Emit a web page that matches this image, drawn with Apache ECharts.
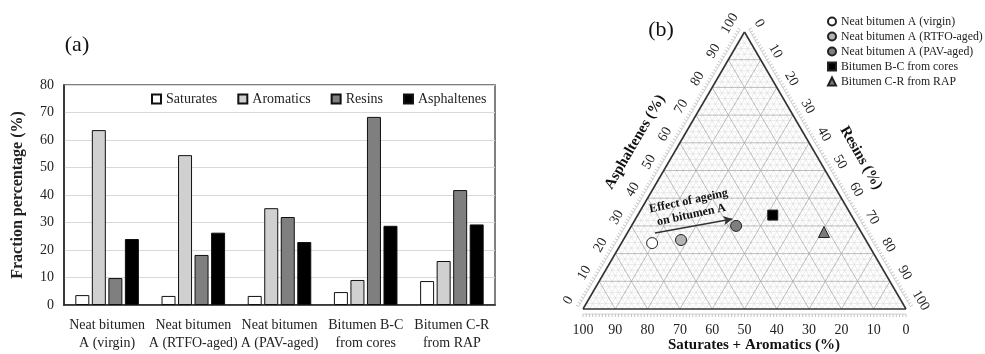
<!DOCTYPE html>
<html>
<head>
<meta charset="utf-8">
<script src="https://cdn.jsdelivr.net/npm/echarts@6/dist/echarts.min.js"></script>
<style>
  html, body { margin: 0; padding: 0; background: #fff; }
  #chart { width: 985px; height: 354px; }
</style>
</head>
<body>
<div id="chart"></div>
<script>
// (a) bar chart data
const categories = ['Neat bitumen\nA (virgin)', 'Neat bitumen\nA (RTFO-aged)', 'Neat bitumen\nA (PAV-aged)', 'Bitumen B-C\nfrom cores', 'Bitumen C-R\nfrom RAP'];
const saturates = [3.6, 3.3, 3.3, 4.7, 8.7];
const aromatics = [63.6, 54.5, 35.2, 9.1, 16.0];
const resins = [9.8, 18.2, 32.0, 68.4, 41.8];
const asphaltenes = [24.0, 26.3, 22.9, 28.8, 29.3];

// (b) ternary data, in %
const ternaryNames = ['Neat bitumen A (virgin)', 'Neat bitumen A (RTFO-aged)', 'Neat bitumen A (PAV-aged)', 'Bitumen B-C from cores', 'Bitumen C-R from RAP'];
const ternarySatAro = [66.7, 57.2, 37.6, 24.3, 11.5];
const ternaryResins = [9.5, 17.9, 32.4, 41.8, 60.7];
const ternaryAsph = [23.8, 24.9, 30.0, 33.9, 27.8];
const ternaryTicks = [0, 10, 20, 30, 40, 50, 60, 70, 80, 90, 100];
// ageing arrow, [satAro, resins, asph]
const arrowStart = [64.0, 8.6, 27.4];
const arrowEnd = [37.5, 30.0, 32.5];

const serif = '"Liberation Serif", "Times New Roman", serif';

// ternary -> cartesian (0..1)
function tern(r, a) {
  return [(r + a / 2) / 100, a / 100];
}

// grid lines of the triangle
const triLines = [];
for (let k = 2; k < 100; k += 2) {
  const kind = k % 10 === 0 ? 1 : 0;
  let p, q;
  p = tern(0, k); q = tern(100 - k, k); triLines.push([p[0], p[1], q[0], q[1], kind]);
  p = tern(k, 0); q = tern(k, 100 - k); triLines.push([p[0], p[1], q[0], q[1], kind]);
  p = tern(0, 100 - k); q = tern(100 - k, 0); triLines.push([p[0], p[1], q[0], q[1], kind]);
}
[[tern(0, 0), tern(100, 0)], [tern(0, 0), tern(0, 100)], [tern(0, 100), tern(100, 0)]].forEach(function (e) {
  triLines.push([e[0][0], e[0][1], e[1][0], e[1][1], 2]);
});

// ruler ticks along each edge: [edge, unit]
const rulerItems = [];
for (let e = 0; e < 3; e++) {
  for (let u = 0; u <= 100; u++) rulerItems.push([e, u]);
}

function edgePoint(edge, u) {
  if (edge === 0) return tern(100 - u, 0);   // bottom: saturates + aromatics
  if (edge === 1) return tern(0, u);         // left: asphaltenes
  return tern(u, 100 - u);                   // right: resins
}
const normals = [[0, 1], [-0.866, -0.5], [0.866, -0.5]];
const rotations = [0, Math.PI / 3, -Math.PI / 3];

function renderTriLine(params, api) {
  const p1 = api.coord([api.value(0), api.value(1)]);
  const p2 = api.coord([api.value(2), api.value(3)]);
  const kind = api.value(4);
  const style = kind === 2 ? { stroke: '#333', lineWidth: 1.6 }
    : kind === 1 ? { stroke: '#ababab', lineWidth: 0.8 }
    : { stroke: '#dcdcdc', lineWidth: 0.6 };
  return { type: 'line', z2: kind, shape: { x1: p1[0], y1: p1[1], x2: p2[0], y2: p2[1] }, style: style };
}

function renderRuler(params, api) {
  const edge = api.value(0), u = api.value(1);
  const n = normals[edge];
  const p = api.coord(edgePoint(edge, u));
  const children = [{
    type: 'line',
    shape: { x1: p[0] + n[0] * 5, y1: p[1] + n[1] * 5, x2: p[0] + n[0] * 8, y2: p[1] + n[1] * 8 },
    style: { stroke: '#9a9a9a', lineWidth: 0.6 }
  }];
  if (u < 100) {
    const q = api.coord(edgePoint(edge, u + 1));
    children.push({
      type: 'line',
      shape: { x1: p[0] + n[0] * 5, y1: p[1] + n[1] * 5, x2: q[0] + n[0] * 5, y2: q[1] + n[1] * 5 },
      style: { stroke: '#b5b5b5', lineWidth: 0.6 }
    });
  }
  if (ternaryTicks.indexOf(u) >= 0) {
    const off = edge === 0 ? 21 : 17;
    children.push({
      type: 'text',
      x: p[0] + n[0] * off,
      y: p[1] + n[1] * off,
      rotation: rotations[edge],
      style: { text: String(u), fill: '#222', font: '14px ' + serif, align: 'center', verticalAlign: 'middle' }
    });
  }
  return { type: 'group', children: children };
}

const ternaryStyles = [
  { symbol: 'circle', size: 11, color: '#ffffff' },
  { symbol: 'circle', size: 11, color: '#b3b3b3' },
  { symbol: 'circle', size: 11, color: '#7f7f7f' },
  { symbol: 'rect', size: 10, color: '#000000' },
  { symbol: 'triangle', size: 11, color: '#7a7a7a' }
];

const ternarySeries = ternaryNames.map(function (name, i) {
  const s = {
    name: name,
    type: 'scatter',
    xAxisIndex: 1,
    yAxisIndex: 1,
    symbol: ternaryStyles[i].symbol,
    symbolSize: ternaryStyles[i].size,
    itemStyle: { color: ternaryStyles[i].color, borderColor: '#222', borderWidth: 1, opacity: 1 },
    z: 5,
    data: [tern(ternaryResins[i], ternaryAsph[i])]
  };
  if (i === 0) {
    s.markLine = {
      silent: true,
      symbol: ['none', 'arrow'],
      symbolSize: [7, 9],
      label: { show: false },
      lineStyle: { color: '#333', width: 1.5, type: 'solid' },
      data: [[{ coord: tern(arrowStart[1], arrowStart[2]) }, { coord: tern(arrowEnd[1], arrowEnd[2]) }]]
    };
  }
  return s;
});

function barSeries(name, values, color) {
  return {
    name: name,
    type: 'bar',
    barWidth: 14,
    barGap: '18%',
    itemStyle: { color: color, borderColor: '#111', borderWidth: 1 },
    data: values
  };
}

const chart = echarts.init(document.getElementById('chart'), null, { renderer: 'canvas' });
chart.setOption({
  animation: false,
  textStyle: { fontFamily: serif },
  grid: [
    { left: 64, width: 431, top: 85, height: 220, show: true, borderColor: '#555', borderWidth: 1.5 },
    { left: 583, width: 323, top: 32, height: 277, show: false }
  ],
  legend: [
    {
      data: ['Saturates', 'Aromatics', 'Resins', 'Asphaltenes'],
      left: 146, top: 87,
      icon: 'rect', itemWidth: 9, itemHeight: 9, itemGap: 20,
      textStyle: { fontFamily: serif, fontSize: 14, color: '#222' }
    },
    {
      data: ternaryNames.map(function (n, i) { return { name: n, icon: ternaryStyles[i].symbol }; }),
      orient: 'vertical', left: 825, top: 13,
      itemWidth: 8, itemHeight: 8, itemGap: 2, padding: 2,
      textStyle: { fontFamily: serif, fontSize: 11.8, color: '#222', lineHeight: 13 }
    }
  ],
  xAxis: [
    {
      type: 'category', gridIndex: 0, data: categories,
      axisLine: { lineStyle: { color: '#222', width: 1.5 } },
      axisTick: { show: false },
      axisLabel: { interval: 0, fontFamily: serif, fontSize: 14, color: '#222', lineHeight: 18, margin: 11 }
    },
    { type: 'value', gridIndex: 1, min: 0, max: 1, show: false }
  ],
  yAxis: [
    {
      type: 'value', gridIndex: 0, min: 0, max: 80, interval: 10,
      name: 'Fraction percentage (%)', nameLocation: 'middle', nameGap: 38,
      nameTextStyle: { fontFamily: serif, fontSize: 16, fontWeight: 'bold', color: '#222' },
      axisLine: { show: true, lineStyle: { color: '#222', width: 1.5 } },
      axisTick: { show: false },
      axisLabel: { fontFamily: serif, fontSize: 14, color: '#222', margin: 10 },
      splitLine: { lineStyle: { color: '#d9d9d9', width: 1 } }
    },
    { type: 'value', gridIndex: 1, min: 0, max: 1, show: false }
  ],
  graphic: [
    { type: 'text', x: 77, y: 45, style: { text: '(a)', font: '22px ' + serif, fill: '#111', align: 'center', verticalAlign: 'middle' } },
    { type: 'text', x: 661, y: 30, style: { text: '(b)', font: '22px ' + serif, fill: '#111', align: 'center', verticalAlign: 'middle' } },
    { type: 'text', x: 635, y: 142, rotation: Math.PI / 3, style: { text: 'Asphaltenes (%)', font: 'bold 15px ' + serif, fill: '#111', align: 'center', verticalAlign: 'middle' } },
    { type: 'text', x: 861, y: 158, rotation: -Math.PI / 3, style: { text: 'Resins (%)', font: 'bold 15px ' + serif, fill: '#111', align: 'center', verticalAlign: 'middle' } },
    { type: 'text', x: 754, y: 345, style: { text: 'Saturates + Aromatics (%)', font: 'bold 15px ' + serif, fill: '#111', align: 'center', verticalAlign: 'middle' } },
    { type: 'text', x: 690, y: 208, rotation: 0.21, z: 10, style: { text: 'Effect of ageing\non bitumen A', font: 'bold 12px ' + serif, fill: '#111', align: 'center', verticalAlign: 'middle', lineHeight: 14 } }
  ],
  series: [
    barSeries('Saturates', saturates, '#ffffff'),
    barSeries('Aromatics', aromatics, '#d0d0d0'),
    barSeries('Resins', resins, '#7f7f7f'),
    barSeries('Asphaltenes', asphaltenes, '#000000'),
    {
      type: 'custom', xAxisIndex: 1, yAxisIndex: 1, silent: true, clip: false, z: 1,
      renderItem: renderTriLine, data: triLines
    },
    {
      type: 'custom', xAxisIndex: 1, yAxisIndex: 1, silent: true, clip: false, z: 1,
      renderItem: renderRuler, data: rulerItems
    }
  ].concat(ternarySeries)
});
</script>
</body>
</html>
